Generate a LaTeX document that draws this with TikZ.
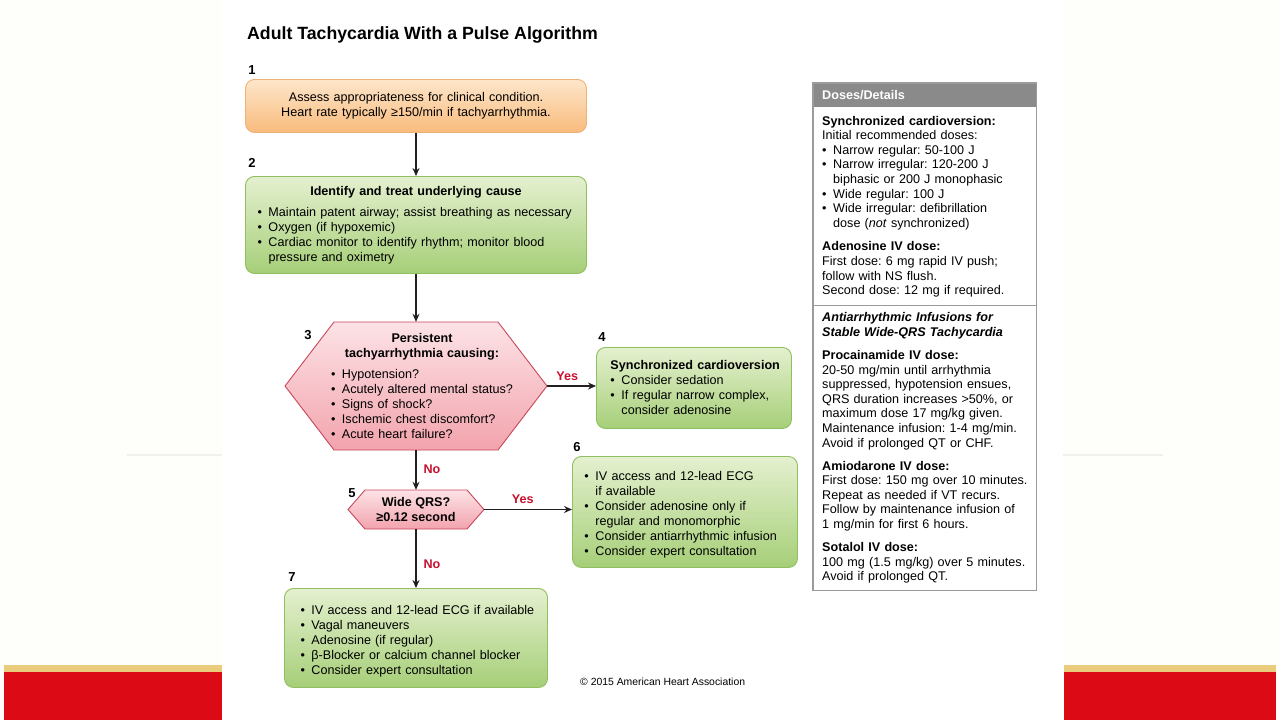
\documentclass[tikz,border=0pt]{standalone}
\usepackage{fontspec}
\setmainfont{Liberation Sans}
\usetikzlibrary{arrows.meta,positioning}

\definecolor{pagebg}{HTML}{FEFEFB}
\definecolor{sidegray}{HTML}{F0F0EE}
\definecolor{barred}{HTML}{DC0A14}
\definecolor{baryellow}{HTML}{EBCB7C}
\definecolor{orangetop}{HTML}{FDE6CB}
\definecolor{orangebot}{HTML}{F9BB7C}
\definecolor{orangeline}{HTML}{EDB27A}
\definecolor{greentop}{HTML}{E4F0CF}
\definecolor{greenbot}{HTML}{A6CF78}
\definecolor{greenline}{HTML}{8FBF5E}
\definecolor{pinktop}{HTML}{FCE3E6}
\definecolor{pinkbot}{HTML}{F3A3AD}
\definecolor{pinkline}{HTML}{C9475A}
\definecolor{ahared}{HTML}{C8102E}
\definecolor{arrowblack}{HTML}{231F20}
\definecolor{headgray}{HTML}{8A8A8A}
\definecolor{panelgray}{HTML}{9B9B9B}

\frenchspacing
\newcommand{\boxfont}{\fontsize{12.6}{15}\selectfont}
\newcommand{\panelfont}{\fontsize{12.6}{14.6}\selectfont}
\newcommand{\bitem}[1]{\par\hangindent=11pt\hangafter=1\noindent\hbox to 11pt{\textbullet\hss}#1}

\begin{document}
\begin{tikzpicture}[x=1pt, y=-1pt,
    every node/.style={inner sep=0pt},
    stepno/.style={font=\bfseries\fontsize{13}{13}\selectfont},
    basebox/.style={line width=0.9pt, rounded corners=9pt, anchor=north west, align=left, font=\boxfont},
    orangebox/.style={basebox, draw=orangeline, top color=orangetop, bottom color=orangebot},
    greenbox/.style={basebox, draw=greenline, top color=greentop, bottom color=greenbot},
    pinkhex/.style={draw=pinkline, line width=0.9pt, top color=pinktop, bottom color=pinkbot},
    flow/.style={-{Stealth[length=8pt,width=7pt]}, line width=1.2pt, draw=arrowblack},
    answer/.style={text=ahared, font=\bfseries\boxfont, inner sep=1pt},
    panelline/.style={draw=panelgray, line width=1.1pt}]
    \useasboundingbox (0,0) rectangle (1280,720);

    % slide background
    \fill[pagebg] (0,0) rectangle (1280,720);
    \fill[white] (222,0) rectangle (1063,720);
    \draw[sidegray, line width=1.5pt] (127,455) -- (222,455);
    \draw[sidegray, line width=1.5pt] (1063,455) -- (1163,455);
    \fill[barred] (4,672) rectangle (222,720);
    \fill[baryellow] (4,664.5) rectangle (222,672);
    \fill[barred] (1064,672) rectangle (1276,720);
    \fill[baryellow] (1064,664.5) rectangle (1276,672);

    \node[anchor=base west, font=\bfseries\fontsize{17.7}{20}\selectfont] (title) at (247,39)
        {Adult Tachycardia With a Pulse Algorithm};

    % hexagons
    \path[pinkhex] (285,386) -- (334,322) -- (498,322) -- (547,386) -- (498,450) -- (334,450) -- cycle;
    \path[pinkhex] (348,509.5) -- (365,490) -- (467,490) -- (484,509.5) -- (467,529) -- (365,529) -- cycle;

    % algorithm steps
    \node[orangebox, anchor=north, text width=341, minimum height=53, align=center] (assess) at (416,79)
        {Assess appropriateness for clinical condition.\\Heart rate typically ≥150/min if tachyarrhythmia.};
    \node[greenbox, anchor=north, text width=341, minimum height=97] (cause) at (416,176)
        {\leftskip=12pt {\centering\bfseries Identify and treat underlying cause\par}\vspace{6pt}%
         \bitem{Maintain patent airway; assist breathing as necessary}%
         \bitem{Oxygen (if hypoxemic)}%
         \bitem{Cardiac monitor to identify rhythm; monitor blood\newline pressure and oximetry}\par};
    \node[minimum width=262, minimum height=128, text width=200, align=left, font=\boxfont] (persist) at (416,386)
        {{\leftskip=12pt plus 1fil\rightskip=0pt plus 1fil\parfillskip=0pt\bfseries Persistent\par tachyarrhythmia causing:\par}\vspace{6pt}%
         \leftskip=15pt
         \bitem{Hypotension?}%
         \bitem{Acutely altered mental status?}%
         \bitem{Signs of shock?}%
         \bitem{Ischemic chest discomfort?}%
         \bitem{Acute heart failure?}\par};
    \node[greenbox, text width=195, minimum height=81] (cardiovert) at (596,347)
        {\leftskip=14pt {\bfseries Synchronized cardioversion}\par
         \bitem{Consider sedation}%
         \bitem{If regular narrow complex,\newline consider adenosine}\par};
    \node[minimum width=136, minimum height=39, align=center, font=\bfseries\boxfont] (wideqrs) at (416,509.5)
        {Wide QRS?\\≥0.12 second};
    \node[greenbox, text width=225, minimum height=111] (ivaccess) at (572,456)
        {\leftskip=12pt
         \bitem{IV access and 12-lead ECG\newline if available}%
         \bitem{Consider adenosine only if\newline regular and monomorphic}%
         \bitem{Consider antiarrhythmic infusion}%
         \bitem{Consider expert consultation}\par};
    \node[greenbox, anchor=north, text width=263, minimum height=99] (vagal) at (416,588)
        {\leftskip=16pt
         \bitem{IV access and 12-lead ECG if available}%
         \bitem{Vagal maneuvers}%
         \bitem{Adenosine (if regular)}%
         \bitem{β-Blocker or calcium channel blocker}%
         \bitem{Consider expert consultation}\par};

    % step numbers
    \node[stepno] (numone) at (252,70) {1};
    \node[stepno] (numtwo) at (252,163) {2};
    \node[stepno] (numthree) at (308,335) {3};
    \node[stepno] (numfour) at (602,337) {4};
    \node[stepno] (numfive) at (352,493) {5};
    \node[stepno] (numsix) at (577,447) {6};
    \node[stepno] (numseven) at (292,577) {7};

    % arrows
    \draw[flow] (assess) -- (cause);
    \draw[flow] (cause) -- (persist);
    \draw[flow] (persist.east) -- (persist.east -| cardiovert.west) node[answer, pos=0.41, above=4pt] {Yes};
    \draw[flow] (persist) -- (wideqrs) node[answer, pos=0.475, right=6pt] {No};
    \draw[flow] (wideqrs.east) -- (wideqrs.east -| ivaccess.west) node[answer, pos=0.44, above=4pt] {Yes};
    \draw[flow] (wideqrs) -- (vagal) node[answer, pos=0.59, right=6pt] {No};

    \node[anchor=west, font=\fontsize{10.4}{12}\selectfont] (copyr) at (580,682) {© 2015 American Heart Association};

    % doses panel
    \node[fill=headgray, text=white, font=\bfseries\panelfont, anchor=north west, text width=223, minimum height=24, align=left] (dosehead) at (813,83)
        {\leftskip=9pt Doses/Details\par};
    \node[anchor=north west, text width=223, minimum height=198, align=left, font=\panelfont] (dosetop) at (dosehead.south west)
        {\leftskip=9pt {\bfseries Synchronized cardioversion:}\par
         Initial recommended doses:%
         \bitem{Narrow regular: 50-100 J}%
         \bitem{Narrow irregular: 120-200 J\newline biphasic or 200 J monophasic}%
         \bitem{Wide regular: 100 J}%
         \bitem{Wide irregular: defibrillation\newline dose (\textit{not} synchronized)}\par\vspace{9pt}%
         {\bfseries Adenosine IV dose:}\par
         First dose: 6 mg rapid IV push;\newline follow with NS flush.\newline Second dose: 12 mg if required.\par};
    \node[anchor=north west, text width=223, minimum height=284, align=left, font=\panelfont] (dosebot) at (dosetop.south west)
        {\leftskip=9pt {\bfseries\itshape Antiarrhythmic Infusions for\newline Stable Wide-QRS Tachycardia}\par\vspace{8.5pt}%
         {\bfseries Procainamide IV dose:}\par
         20-50 mg/min until arrhythmia\newline suppressed, hypotension ensues,\newline QRS duration increases >50\%, or\newline
         maximum dose 17 mg/kg given.\newline Maintenance infusion: 1-4 mg/min.\newline Avoid if prolonged QT or CHF.\par\vspace{8.5pt}%
         {\bfseries Amiodarone IV dose:}\par
         First dose: 150 mg over 10 minutes.\newline Repeat as needed if VT recurs.\newline Follow by maintenance infusion of\newline
         1 mg/min for first 6 hours.\par\vspace{8.5pt}%
         {\bfseries Sotalol IV dose:}\par
         100 mg (1.5 mg/kg) over 5 minutes.\newline Avoid if prolonged QT.\par};
    \draw[panelline] (dosehead.north west) rectangle (dosebot.south east);
    \draw[panelline] (dosebot.north west) -- (dosebot.north east);
\end{tikzpicture}
\end{document}
